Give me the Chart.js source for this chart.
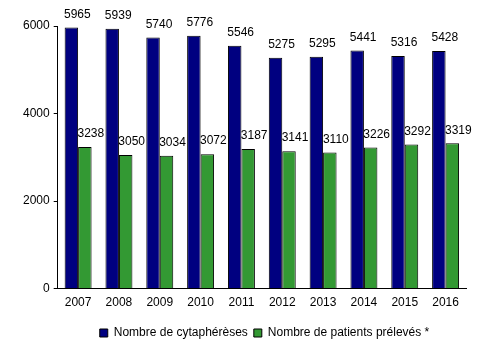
<!DOCTYPE html>
<html>
<head>
<meta charset="utf-8">
<script src="https://cdn.jsdelivr.net/npm/chart.js@4"></script>
<style>
  body { margin: 0; background: #fff; }
  #wrap { width: 478px; height: 352px; }
</style>
</head>
<body>
<div id="wrap"><canvas id="myChart" width="478" height="352"></canvas></div>
<script>
const years = ["2007", "2008", "2009", "2010", "2011", "2012", "2013", "2014", "2015", "2016"];
const cytapheres = [5965, 5939, 5740, 5776, 5546, 5275, 5295, 5441, 5316, 5428];
const patients = [3238, 3050, 3034, 3072, 3187, 3141, 3110, 3226, 3292, 3319];
const yTicks = [0, 2000, 4000, 6000];

// values written above each bar
const barLabels = {
    id: 'barLabels',
    afterLayout(chart) {
        // legend sits a bit right of centre and lower in the original
        chart.legend.left += 22;
        chart.legend.right += 22;
        chart.legend.top += 4;
        chart.legend.bottom += 4;
    },
    afterDatasetsDraw(chart) {
        const ctx = chart.ctx;
        ctx.save();
        ctx.font = '12px "Liberation Sans", Arial, sans-serif';
        ctx.fillStyle = '#000';
        ctx.textAlign = 'center';
        ctx.textBaseline = 'bottom';
        chart.data.datasets.forEach((ds, i) => {
            chart.getDatasetMeta(i).data.forEach((bar, j) => {
                ctx.fillText(ds.data[j], bar.x + 6, bar.y - 7);
            });
        });
        ctx.restore();
    }
};

new Chart(document.getElementById('myChart'), {
    type: 'bar',
    data: {
        labels: years,
        datasets: [{
            label: "Nombre de cytaphérèses",
            data: cytapheres,
            backgroundColor: '#000080',
            borderColor: '#000',
            borderWidth: 1
        }, {
            label: "Nombre de patients prélevés *",
            data: patients,
            backgroundColor: '#339933',
            borderColor: '#000',
            borderWidth: 1
        }]
    },
    options: {
        responsive: false,
        animation: false,
        layout: { padding: { top: 26, right: 12, left: 19, bottom: 7 } },
        datasets: {
            bar: { categoryPercentage: 0.66, barPercentage: 1 }
        },
        plugins: {
            tooltip: { enabled: false },
            legend: {
                position: 'bottom',
                labels: {
                    boxWidth: 8,
                    boxHeight: 8,
                    padding: 6,
                    color: '#000',
                    font: { size: 12, family: '"Liberation Sans", Arial, sans-serif' }
                }
            }
        },
        scales: {
            y: {
                min: 0,
                max: 6000,
                afterBuildTicks: (axis) => { axis.ticks = yTicks.map(v => ({ value: v })); },
                grid: { drawOnChartArea: false, drawTicks: true, tickLength: 4, color: '#000' },
                border: { color: '#000' },
                ticks: {
                    color: '#000',
                    padding: 4,
                    callback: (v) => String(v),
                    font: { size: 12, family: '"Liberation Sans", Arial, sans-serif' }
                }
            },
            x: {
                grid: { display: false, drawTicks: false },
                border: { color: '#000' },
                ticks: {
                    color: '#000',
                    padding: 7,
                    font: { size: 12, family: '"Liberation Sans", Arial, sans-serif' }
                }
            }
        }
    },
    plugins: [barLabels]
});
</script>
</body>
</html>
